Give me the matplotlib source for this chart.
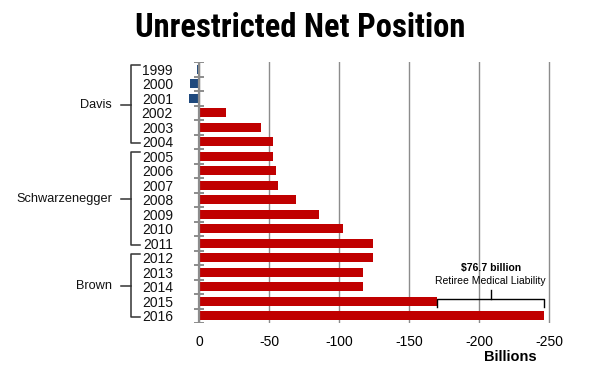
import matplotlib
matplotlib.use('Agg')
import matplotlib.pyplot as plt
import matplotlib.transforms as mtransforms
import numpy as np

plt.rcParams['font.family'] = ['Liberation Sans', 'DejaVu Sans']

# Unrestricted net position, billions of dollars
YEARS = [str(y) for y in range(1999, 2017)]
VALUES = [1.6, 6.4, 7.1, -19, -44, -52.6, -52.6, -54.8, -56.2, -69, -86, -102.6,
          -124, -124, -117, -117, -170, -246.7]

# Governors and the first/last year index they cover
GOVERNORS = ['Davis', 'Schwarzenegger', 'Brown']
GOV_SPANS = [(0, 5), (6, 12), (13, 17)]

XTICKS = [0, -50, -100, -150, -200, -250]
RETIREE_MEDICAL = 76.7

RED = '#C00000'
BLUE = '#1F497D'
GRAY = '#8c8c8c'

fig = plt.figure(figsize=(6, 3.75), dpi=100)
ax = fig.add_axes([186 / 600, 52 / 375, 366 / 600, 261 / 375])

y = np.arange(len(YEARS))
vals = np.array(VALUES)
colors = [BLUE if v > 0 else RED for v in vals]
ax.barh(y, vals, height=0.62, color=colors, zorder=3)

ax.set_xlim(9.3, -252.1)
ax.set_ylim(len(YEARS) - 0.5, -0.5)

for s in ax.spines.values():
    s.set_visible(False)

ax.set_xticks(XTICKS)
ax.set_xticklabels([str(t) for t in XTICKS])
ax.tick_params(axis='x', length=0, pad=9, labelsize=10)
ax.set_yticks(y)
ax.set_yticklabels(YEARS)
ax.tick_params(axis='y', length=0, pad=9.4, labelsize=10, labelcolor='#111111')
ax.grid(axis='x', color=GRAY, lw=1, zorder=0)

# axis line at zero with ticks between the categories
ax.axvline(0, color=GRAY, lw=1.6, zorder=4)
ax.hlines(np.arange(-0.5, len(YEARS)), 3.6, -3.6, color=GRAY, lw=1.4, zorder=4)

# governor braces on the left
tr = mtransforms.blended_transform_factory(fig.transFigure, ax.transData)
xv, xh, xn = 130.7 / 600, 140 / 600, 120.7 / 600
for name, (a, b) in zip(GOVERNORS, GOV_SPANS):
    top, bot = a - 0.28, b + 0.12
    mid = (a + b) / 2 - 0.05
    ax.plot([xh, xv, xv, xh], [top, top, bot, bot], transform=tr,
            color='#333333', lw=1.1, clip_on=False, solid_joinstyle='round')
    ax.plot([xv, xn], [mid, mid], transform=tr, color='#333333', lw=1.1, clip_on=False)
    ax.text(112 / 600, mid, name, transform=tr, ha='right', va='center',
            fontsize=9.2, color='#111111')

# retiree medical liability brace
x0 = VALUES[-2]
x1 = VALUES[-2] - RETIREE_MEDICAL
xm = (x0 + x1) / 2
yb = 15.83
ax.plot([x0, x0, x1, x1], [yb + 0.6, yb, yb, yb + 0.6], color='black', lw=1, zorder=5,
        clip_on=False)
ax.plot([xm, xm], [yb, yb - 0.6], color='black', lw=1, zorder=5)
ax.text(xm, 13.7, f'${RETIREE_MEDICAL} billion', ha='center', va='center',
        fontsize=7.5, fontweight='bold', zorder=5)
ax.text(xm, 14.6, 'Retiree Medical Liability', ha='center', va='center',
        fontsize=7.5, zorder=5)

fig.text(510 / 600, 1 - 357 / 375, 'Billions', ha='center', va='center',
         fontsize=10.5, fontweight='bold')
fig.text(300 / 600, 1 - 28 / 375, 'Unrestricted Net Position', ha='center', va='center',
         fontsize=23.5, fontweight='bold', family=['Roboto Condensed', 'DejaVu Sans'])

fig.savefig('out.png', dpi=100)
